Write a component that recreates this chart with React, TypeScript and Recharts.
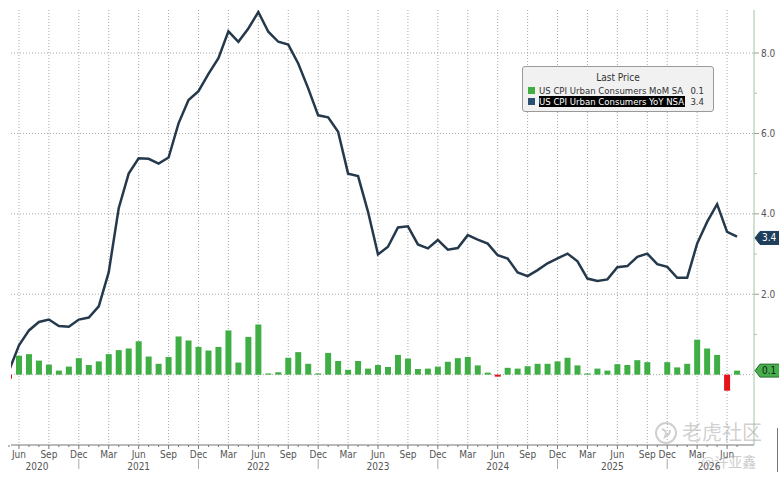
import React from 'react';
import { ComposedChart, Bar, Line, XAxis, YAxis, CartesianGrid, Cell, ReferenceDot } from 'recharts';

// Monthly slots (Oct 2025 is absent from the series index)
const categories: string[] = [
  'May 2020', 'Jun 2020', 'Jul 2020', 'Aug 2020', 'Sep 2020', 'Oct 2020', 'Nov 2020', 'Dec 2020',
  'Jan 2021', 'Feb 2021', 'Mar 2021', 'Apr 2021', 'May 2021', 'Jun 2021', 'Jul 2021', 'Aug 2021', 'Sep 2021', 'Oct 2021', 'Nov 2021', 'Dec 2021',
  'Jan 2022', 'Feb 2022', 'Mar 2022', 'Apr 2022', 'May 2022', 'Jun 2022', 'Jul 2022', 'Aug 2022', 'Sep 2022', 'Oct 2022', 'Nov 2022', 'Dec 2022',
  'Jan 2023', 'Feb 2023', 'Mar 2023', 'Apr 2023', 'May 2023', 'Jun 2023', 'Jul 2023', 'Aug 2023', 'Sep 2023', 'Oct 2023', 'Nov 2023', 'Dec 2023',
  'Jan 2024', 'Feb 2024', 'Mar 2024', 'Apr 2024', 'May 2024', 'Jun 2024', 'Jul 2024', 'Aug 2024', 'Sep 2024', 'Oct 2024', 'Nov 2024', 'Dec 2024',
  'Jan 2025', 'Feb 2025', 'Mar 2025', 'Apr 2025', 'May 2025', 'Jun 2025', 'Jul 2025', 'Aug 2025', 'Sep 2025', 'Nov 2025', 'Dec 2025',
  'Jan 2026', 'Feb 2026', 'Mar 2026', 'Apr 2026', 'May 2026', 'Jun 2026', 'Jul 2026',
];

// US CPI Urban Consumers MoM SA (%)
const momValues: (number | null)[] = [
  -0.1, 0.47, 0.51, 0.35, 0.25, 0.1, 0.2, 0.41,
  0.24, 0.33, 0.51, 0.61, 0.65, 0.83, 0.45, 0.27, 0.44, 0.95, 0.85, 0.69,
  0.6, 0.69, 1.1, 0.3, 0.94, 1.25, 0.03, 0.06, 0.42, 0.56, 0.27, 0.03,
  0.54, 0.34, 0.12, 0.34, 0.15, 0.24, 0.19, 0.49, 0.4, 0.14, 0.15, 0.2,
  0.32, 0.41, 0.44, 0.23, 0.05, -0.05, 0.17, 0.15, 0.21, 0.27, 0.27, 0.33,
  0.42, 0.23, 0.03, 0.15, 0.1, 0.26, 0.24, 0.36, 0.31, null, 0.31,
  0.18, 0.27, 0.87, 0.65, 0.49, -0.4, 0.1,
];

// US CPI Urban Consumers YoY NSA (%)
const yoyValues: number[] = [
  0.1, 0.73, 1.1, 1.31, 1.37, 1.21, 1.19, 1.37,
  1.42, 1.7, 2.55, 4.14, 5.0, 5.38, 5.37, 5.25, 5.4, 6.25, 6.83, 7.05,
  7.48, 7.87, 8.54, 8.28, 8.61, 9.02, 8.53, 8.28, 8.21, 7.74, 7.12, 6.45,
  6.4, 6.04, 5.0, 4.94, 4.05, 2.99, 3.18, 3.66, 3.69, 3.24, 3.14, 3.35,
  3.11, 3.15, 3.47, 3.36, 3.26, 2.97, 2.89, 2.54, 2.45, 2.6, 2.77, 2.89,
  3.01, 2.82, 2.39, 2.33, 2.37, 2.67, 2.7, 2.93, 3.01, 2.75, 2.68,
  2.41, 2.41, 3.26, 3.8, 4.24, 3.55, 3.43,
];

const yTicks = [1, 2, 3, 4, 5, 6, 7, 8];
const gridYValues = [0, 2, 4, 6, 8];
const quarterMonths = ['Mar', 'Jun', 'Sep', 'Dec'];
const lastMoM = 0.1;
const lastYoY = 3.4;

const data = categories.map((label, i) => ({ i, label, mom: momValues[i], yoy: yoyValues[i] }));
const slotTicks = data.map((d) => d.i);
const quarterSlots = data.filter((d) => quarterMonths.includes(d.label.slice(0, 3))).map((d) => d.i);

const X_MIN = 0.2;
const X_MAX = 74.7;
const FONT = "'DejaVu Sans Condensed', 'Liberation Sans', Arial, sans-serif";
const GREEN = '#3fae45';
const RED = '#e3151b';
const NAVY = '#25394c';

const yearShift: Record<string, number> = { '2020': 18, '2025': -5, '2026': -18 };

const XTick = (props: any) => {
  const { x, y, payload } = props;
  const label: string = categories[payload.value] || '';
  const mon = label.slice(0, 3);
  const yr = label.slice(4);
  const isQ = quarterMonths.includes(mon);
  return (
    <g>
      <line x1={x} x2={x} y1={y} y2={y + (isQ ? 4 : 2)} stroke="#777" strokeWidth={1} />
      {isQ && (
        <text x={x} y={y + 13} textAnchor="middle" fontSize={10} fill="#555" fontFamily={FONT}>
          {mon}
        </text>
      )}
      {mon === 'Jun' && (
        <text x={x + (yearShift[yr] || 0)} y={y + 25} textAnchor="middle" fontSize={10} fill="#555" fontFamily={FONT}>
          {yr}
        </text>
      )}
      {mon === 'Dec' && <line x1={x} x2={x} y1={y + 14} y2={y + 24} stroke="#aaa" strokeWidth={1} />}
    </g>
  );
};

const YTick = (props: any) => {
  const { x, y, payload } = props;
  const v: number = payload.value;
  const major = v % 2 === 0;
  return (
    <g>
      <line x1={x} x2={x + (major ? 5 : 3)} y1={y} y2={y} stroke={major ? '#8aa88a' : '#bbb'} strokeWidth={1} />
      {major && (
        <text x={x + 7} y={y + 3.5} fontSize={10} fill="#555" fontFamily={FONT}>
          {v.toFixed(1)}
        </text>
      )}
    </g>
  );
};

const makeTag = (fill: string, stroke: string, color: string, text: string) => (props: any) => {
  const { cx, cy } = props;
  const pts = `${cx + 1},${cy} ${cx + 6},${cy - 6.5} ${cx + 30},${cy - 6.5} ${cx + 30},${cy + 6.5} ${cx + 6},${cy + 6.5}`;
  return (
    <g>
      <polygon points={pts} fill={fill} stroke={stroke} strokeWidth={1} />
      <text x={cx + 8} y={cy + 3.5} fontSize={10} fill={color} fontFamily={FONT}>
        {text}
      </text>
    </g>
  );
};

const MomTag = makeTag('#45b04b', '#2c6e30', '#1a1a1a', lastMoM.toFixed(1));
const YoyTag = makeTag('#1f3e5c', '#1f3e5c', '#ffffff', lastYoY.toFixed(1));

export default function App() {
  return (
    <div style={{ position: 'absolute', left: 0, top: 0, width: 779, height: 478, background: '#fff', fontFamily: FONT, overflow: 'hidden' }}>
      <ComposedChart width={779} height={478} data={data} margin={{ top: 10, right: 0, bottom: 0, left: 11 }}>
        <CartesianGrid
          horizontalValues={gridYValues}
          verticalValues={quarterSlots}
          stroke="#a8a8a8"
          strokeDasharray="1 2"
        />
        <XAxis
          type="number"
          dataKey="i"
          domain={[X_MIN, X_MAX]}
          allowDataOverflow
          ticks={slotTicks}
          interval={0}
          tick={<XTick />}
          tickLine={false}
          tickSize={0}
          tickMargin={0}
          height={33}
          axisLine={{ stroke: '#777' }}
        />
        <YAxis
          orientation="right"
          domain={[-1.75, 9.07]}
          allowDataOverflow
          ticks={yTicks}
          interval={0}
          tick={<YTick />}
          tickLine={false}
          tickSize={0}
          tickMargin={0}
          width={25}
          axisLine={{ stroke: '#a4c4a4' }}
        />
        <Bar dataKey="mom" barSize={6} isAnimationActive={false}>
          {data.map((d, k) => (
            <Cell key={k} fill={(d.mom ?? 0) < 0 ? RED : GREEN} />
          ))}
        </Bar>
        <Line
          dataKey="yoy"
          type="linear"
          stroke={NAVY}
          strokeWidth={2.5}
          dot={false}
          activeDot={false}
          connectNulls
          isAnimationActive={false}
        />
        <ReferenceDot x={X_MAX} y={lastYoY} ifOverflow="visible" shape={YoyTag} />
        <ReferenceDot x={X_MAX} y={lastMoM} ifOverflow="visible" shape={MomTag} />
      </ComposedChart>

      {/* Legend box */}
      <div
        style={{
          position: 'absolute', left: 522, top: 66, width: 192, height: 46,
          border: '1px solid #9a9a9a', borderRadius: 3, background: '#f1f1f1', boxSizing: 'border-box',
          fontSize: 9.5, color: '#333', fontFamily: FONT,
        }}
      >
        <div style={{ position: 'absolute', left: 0, right: 0, top: 5, textAlign: 'center', lineHeight: '12px', fontSize: 10 }}>Last Price</div>
        <div style={{ position: 'absolute', left: 5, top: 20, width: 7, height: 7, background: GREEN }} />
        <div style={{ position: 'absolute', left: 16, top: 17.5, lineHeight: '12px', whiteSpace: 'nowrap' }}>US CPI Urban Consumers MoM SA</div>
        <div style={{ position: 'absolute', right: 9, top: 17.5, lineHeight: '12px' }}>{lastMoM.toFixed(1)}</div>
        <div style={{ position: 'absolute', left: 5, top: 31, width: 7, height: 7, background: '#2b4f72' }} />
        <div style={{ position: 'absolute', left: 16, top: 29, lineHeight: '11px', whiteSpace: 'nowrap', background: '#000', color: '#fff', paddingRight: 1 }}>US CPI Urban Consumers YoY NSA</div>
        <div style={{ position: 'absolute', right: 9, top: 28.5, lineHeight: '12px' }}>{lastYoY.toFixed(1)}</div>
      </div>

      {/* Watermark */}
      <svg style={{ position: 'absolute', left: 654, top: 421, overflow: 'visible' }} width={26} height={26}>
        <circle cx={12} cy={12} r={10} fill="none" stroke="#cfcfcf" strokeWidth={2} />
        <path d="M8 8 Q14 10 11 16 Q16 14 16 9" fill="none" stroke="#cfcfcf" strokeWidth={2} />
      </svg>
      <div style={{ position: 'absolute', left: 682, top: 419, fontSize: 20, color: 'rgba(170,170,170,0.55)', fontFamily: "'Noto Sans CJK SC', sans-serif", lineHeight: '26px', letterSpacing: 0 }}>老虎社区</div>
      <div style={{ position: 'absolute', left: 701, top: 452, fontSize: 14, color: 'rgba(170,170,170,0.6)', fontFamily: "'Noto Sans CJK SC', sans-serif", lineHeight: '18px' }}>@许亚鑫</div>
      <div style={{ position: 'absolute', left: 777, top: 428, width: 1, height: 44, background: '#777' }} />
    </div>
  );
}
